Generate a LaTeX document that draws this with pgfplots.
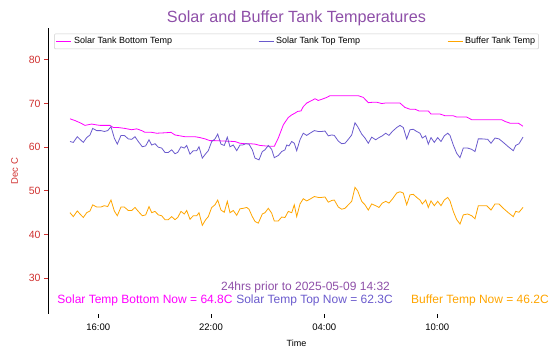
\documentclass[border=0pt]{standalone}
\usepackage{pgfplots}
\pgfplotsset{compat=1.18}
\usepackage{fontspec}
\setmainfont{Liberation Sans}
\definecolor{ttl}{HTML}{8E4FA8}
\definecolor{redc}{HTML}{D0302F}
\definecolor{cbot}{HTML}{FF00FF}
\definecolor{ctop}{HTML}{6A5ACD}
\definecolor{cbuf}{HTML}{FFA500}
\begin{document}
\begin{tikzpicture}[x=1pt,y=1pt]
\useasboundingbox (0,0) rectangle (558,358);
\begin{axis}[
  at={(48pt,44pt)}, anchor=south west,
  scale only axis, width=497pt, height=286pt,
  xmin=48, xmax=545, ymin=21.8, ymax=87.3,
  axis x line*=bottom, axis y line*=left,
  x axis line style={draw=none},
  y axis line style={black,-,line width=0.9pt},
  tick align=outside, major tick length=4pt,
  xtick={98.3,211,324.3,437.3},
  xticklabels={16:00,22:00,04:00,10:00},
  ytick={30,40,50,60,70,80},
  xtick style={black,line width=0.8pt},
  ytick style={redc,line width=0.8pt},
  yticklabel style={text=redc,font=\fontsize{10.5}{12}\selectfont},
  xticklabel style={font=\fontsize{9.5}{11}\selectfont, yshift=-2pt},
  /pgf/number format/assume math mode=true,
  xlabel={Time}, xlabel style={font=\fontsize{9}{11}\selectfont, yshift=-3pt},
  ylabel={Dec C}, ylabel style={text=redc,font=\fontsize{9.5}{11}\selectfont, yshift=4pt},
  title={Solar and Buffer Tank Temperatures},
  title style={text=ttl,font=\fontsize{16.2}{19}\selectfont, yshift=-7pt},
  legend columns=3,
  legend cell align=left,
  legend style={at={(0.5,0.98)}, anchor=north, draw=black!20, rounded corners=1pt,
    font=\fontsize{9}{11}\selectfont, inner sep=1.5pt},
  legend image code/.code={\draw[#1, line width=1.1pt] (0pt,0pt) -- (15pt,0pt);},
  clip=false,
]
\addplot[color=cbot, line width=0.8pt, mark=none] coordinates {
(70,66.5)(75,66.1)(80,65.6)(85,65.0)(91.7,65.3)(96.7,65.1)(100,65.0)(105,65.0)(110,65.0)(113.3,64.5)(118.3,64.5)(125,64.3)(131.7,64.0)(136.7,64.2)(141.7,63.8)(145,63.4)(151.7,63.4)(156.7,63.2)(165,63.3)(171,63.4)(175,62.8)(180,62.6)
(185,62.4)(195,62.4)(200,62.2)(205,61.9)(210,61.5)(215,61.5)(225,61.4)(235,61.3)(240,60.9)(245,60.8)(250,60.8)(255,60.7)(260,60.4)(265,60.3)(270,60.2)(274.3,60.2)(278.3,62.1)(283.3,65.1)
(285,65.7)(288.3,66.8)(291.7,67.4)(295,67.8)(297.7,68.2)(301,68.3)(303.3,69.3)(306.7,70.1)(311,70.6)(315,71.1)(318.3,70.7)(323.3,71.1)(326.7,71.4)(330,71.8)(358.3,71.8)(363.3,71.4)(368.3,70.2)(373.3,70.3)(376.7,70.3)(381.7,70.0)(385,70.1)(400,70.1)
(405,69.1)(410,68.7)(415,68.7)(419,68.3)(428.3,68.3)(431,67.6)(440,67.6)(445,67.2)(453.3,67.2)(456.7,66.9)(466.7,66.9)(471.7,66.3)(501.7,66.3)(505,65.9)(510,65.5)(518.3,65.5)(523,64.8)
};
\addlegendentry{\makebox[182pt][l]{Solar Tank Bottom Temp}}
\addplot[color=ctop, line width=0.8pt, mark=none] coordinates {
(70,61.3)(73.3,61.1)(77.3,62.4)(80,61.8)(83.3,61.1)(86.7,62.2)(90,62.8)(92.7,64.3)(96.7,63.8)(101,63.8)(104.3,63.6)(107.7,63.8)(111,64.7)(114.3,62.1)(117.3,60.7)(121,62.7)(124.3,62.7)(128.3,61.9)(131.7,61.8)(135,62.4)(138.3,61.3)(142.3,60.1)(145.7,60.3)(149,61.7)(151.7,60.5)(155,60.8)(158.3,60.0)(161.7,59.8)(165,58.8)(168.3,58.8)(171.7,59.4)(175,58.5)(177.7,58.8)(181,60.1)
(184.3,59.8)(186.7,60.4)(190,58.4)(193.3,59.2)(196.7,59.2)(199,60.1)(202.3,57.5)(205.7,58.5)(208.3,59.2)(211.7,61.3)(215,61.9)(217.7,63.0)(221,60.7)(224.3,60.4)(227.3,62.3)(230,60.1)(233.3,60.5)(236.7,59.2)(240,60.5)(242.7,60.5)(245.7,60.8)(249,60.7)(252.3,59.4)(255,57.5)(259,57.1)(262.3,59.0)(265,59.4)(268.3,60.4)(271.7,59.5)(274.3,57.6)(278.3,58.1)(281.7,59.0)(285,59.4)
(286.7,60.5)(289,60.3)(291.7,61.3)(294.3,60.9)(296.7,59.2)(300,61.7)(303.3,63.2)(306.7,62.7)(310,63.2)(314.3,63.8)(318.3,63.6)(321.7,63.6)(325,63.7)(328.3,62.6)(331.7,62.8)(334.3,62.7)(338.3,61.4)(341.7,60.8)(345,60.9)(348.3,61.8)(351.7,62.8)(355,65.6)(357.7,64.7)(361.7,63.0)(365,62.1)(368.3,60.9)(371.7,62.3)(375.7,61.7)(379,62.2)(382.3,62.6)(385.7,63.2)(389,62.7)(392.3,63.6)(396.7,64.5)(400,65.0)
(403.3,64.5)(406.7,61.9)(410,64.0)(413.3,64.1)(416.7,63.6)(420,63.2)(422.3,62.1)(425.7,62.6)(428.3,60.7)(431,62.2)(434.3,61.1)(437.7,62.2)(441,61.3)(444.3,62.6)(447.7,63.2)(450,62.7)(453.3,60.5)(456.7,58.6)(460,57.6)(463.3,59.8)(467.7,59.8)(471.7,59.5)(475,59.0)(478.3,61.9)(482.3,61.9)(487.7,61.8)(491,60.9)(495,62.1)(499,61.9)(503.3,61.1)(508.3,60.1)(513.3,59.2)(515.7,60.4)(519,60.8)(523,62.3)
};
\addlegendentry{\makebox[169pt][l]{Solar Tank Top Temp}}
\addplot[color=cbuf, line width=0.8pt, mark=none] coordinates {
(70,45.0)(73.3,44.1)(77.3,45.4)(80,44.7)(83.3,43.9)(86.7,45.0)(90,45.4)(92.7,46.8)(96.7,46.3)(101,46.3)(104.3,46.6)(107.7,46.4)(111,47.9)(114.3,45.4)(117.3,44.3)(121,46.3)(124.3,46.3)(128.3,45.5)(131.7,45.5)(135,46.2)(138.3,45.3)(142.3,44.3)(145.7,44.5)(149,46.4)(151.7,45.0)(155,45.3)(158.3,44.5)(161.7,44.3)(165,43.4)(168.3,43.4)(171.7,44.1)(175,43.4)
(177.7,43.9)(181,45.3)(184.3,44.7)(186.7,45.5)(190,43.5)(193.3,44.3)(196.7,44.3)(199,45.0)(202.3,42.1)(205.7,43.4)(208.3,44.1)(211.7,46.2)(215,46.8)(217.7,47.9)(221,45.6)(224.3,45.1)(227.3,47.6)(230,45.0)(233.3,45.5)(236.7,44.4)(240,45.9)(243.3,46.0)(246.7,46.2)(249,45.8)(252.3,44.1)(255,43.0)(258.3,42.6)(262.3,44.7)(265,45.0)(268.3,46.0)(271.7,44.9)(274.3,43.1)(278.3,43.1)(281.7,44.0)(285,43.9)(288.3,45.3)
(291.7,45.0)(294.3,46.8)(296.7,44.1)(300,47.0)(303.3,48.2)(306.7,47.7)(310,48.1)(314.3,48.7)(318.3,48.5)(321.7,48.5)(325,48.6)(328.3,47.4)(331.7,47.8)(334.3,47.9)(338.3,46.3)(341.7,45.8)(345,46.0)(348.3,46.8)(351.7,47.6)(355,50.8)(357.7,50.0)(361.7,47.6)(365,46.8)(368.3,45.6)(371.7,47.0)(375.7,46.6)(379,46.2)(382.3,47.2)(385.7,47.6)(389,47.2)(392.3,48.1)(396.7,49.5)(400,49.8)
(403.3,49.5)(406.7,46.8)(410,49.1)(413.3,49.2)(416.7,48.5)(420,47.9)(422.3,47.0)(425.7,47.9)(428.3,46.2)(431,47.7)(434.3,46.6)(437.7,47.6)(441,46.6)(444.3,47.9)(447.7,48.5)(450,47.7)(453.3,45.3)(456.7,43.4)(460,42.4)(463.3,44.5)(467.7,44.7)(471.7,44.3)(475,43.6)(478.3,46.6)(482.3,46.6)(486.7,46.6)(491,45.6)(495,47.0)(499,47.0)(503.3,46.0)(508.3,45.0)(513.3,44.1)(515.7,45.3)(519,45.1)(523,46.2)
};
\addlegendentry{Buffer Tank Temp}
\node[text=ttl, font=\fontsize{12}{14}\selectfont] at (axis cs:305.5,28.0) {24hrs prior to 2025-05-09 14:32};
\node[text=cbot, font=\fontsize{12}{14}\selectfont] at (axis cs:145,25.0) {Solar Temp Bottom Now = 64.8C};
\node[text=ctop, font=\fontsize{12}{14}\selectfont] at (axis cs:314.5,25.0) {Solar Temp Top Now = 62.3C};
\node[text=cbuf, font=\fontsize{12}{14}\selectfont] at (axis cs:480,25.0) {Buffer Temp Now = 46.2C};
\end{axis}
\end{tikzpicture}
\end{document}
